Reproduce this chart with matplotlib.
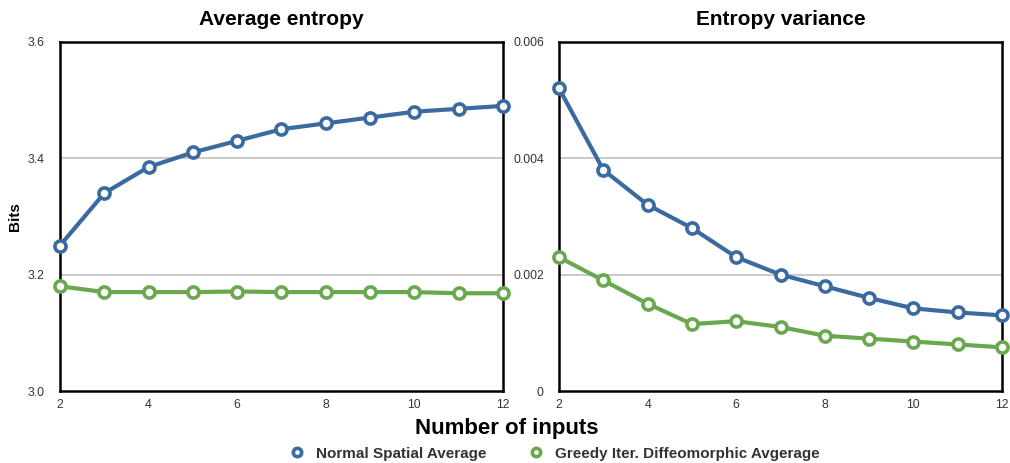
import matplotlib.pyplot as plt

plt.rcParams['font.family'] = ['Liberation Sans', 'DejaVu Sans']

inputs = [2, 3, 4, 5, 6, 7, 8, 9, 10, 11, 12]

# Average entropy (bits)
avg_normal = [3.25, 3.34, 3.385, 3.41, 3.43, 3.45, 3.46, 3.47, 3.48, 3.485, 3.49]
avg_greedy = [3.18, 3.17, 3.17, 3.17, 3.171, 3.17, 3.17, 3.17, 3.17, 3.168, 3.168]

# Entropy variance
var_normal = [0.0052, 0.0038, 0.0032, 0.0028, 0.0023, 0.0020, 0.0018, 0.0016, 0.00142, 0.00135, 0.0013]
var_greedy = [0.0023, 0.0019, 0.0015, 0.00115, 0.0012, 0.0011, 0.00095, 0.0009, 0.00085, 0.0008, 0.00075]

labels = ['Normal Spatial Average', 'Greedy Iter. Diffeomorphic Avgerage']
blue = '#3b6aa0'
green = '#6aa84f'

fig = plt.figure(figsize=(10.1, 4.63), dpi=100)
ax1 = fig.add_axes([0.0594, 0.1555, 0.4386, 0.754])
ax2 = fig.add_axes([0.5535, 0.1555, 0.4386, 0.754])

def style(ax, title, ylim, yticks, yticklabels):
    ax.set_xlim(2, 12)
    ax.set_ylim(*ylim)
    ax.set_xticks([2, 4, 6, 8, 10, 12])
    ax.set_yticks(yticks)
    ax.set_yticklabels(yticklabels)
    ax.tick_params(length=0, labelsize=8.8, labelcolor='#333333')
    ax.tick_params(axis='x', pad=6)
    ax.tick_params(axis='y', pad=11)
    for s in ax.spines.values():
        s.set_linewidth(1.8)
        s.set_color('black')
    for y in yticks[1:-1]:
        ax.axhline(y, color='#bbbbbb', lw=1.1, zorder=0)
    ax.set_title(title, fontsize=15, fontweight='bold', pad=12)

def draw(ax, a, b):
    kw = dict(lw=3, marker='o', ms=8, mfc='white', mew=2.6, clip_on=False, zorder=3)
    ax.plot(inputs, a, color=blue, label=labels[0], **kw)
    ax.plot(inputs, b, color=green, label=labels[1], **kw)

draw(ax1, avg_normal, avg_greedy)
style(ax1, 'Average entropy', (3.0, 3.6), [3.0, 3.2, 3.4, 3.6], ['3.0', '3.2', '3.4', '3.6'])
ax1.set_ylabel('Bits', fontsize=11, fontweight='bold', labelpad=4)

draw(ax2, var_normal, var_greedy)
style(ax2, 'Entropy variance', (0, 0.006), [0, 0.002, 0.004, 0.006], ['0', '0.002', '0.004', '0.006'])

fig.text(0.502, 0.075, 'Number of inputs', ha='center', va='center', fontsize=16, fontweight='bold')

handles, _ = ax1.get_legend_handles_labels()
leg = fig.legend(handles, labels, loc='center', bbox_to_anchor=(0.549, 0.02), ncol=2, frameon=False,
                 fontsize=11, handlelength=0.9, columnspacing=2.8, handletextpad=0.8, markerscale=0.75)
for t in leg.get_texts():
    t.set_fontweight('bold')
    t.set_color('#333333')
for h in leg.get_lines():
    h.set_linestyle('')

fig.savefig('out.png', dpi=100)
